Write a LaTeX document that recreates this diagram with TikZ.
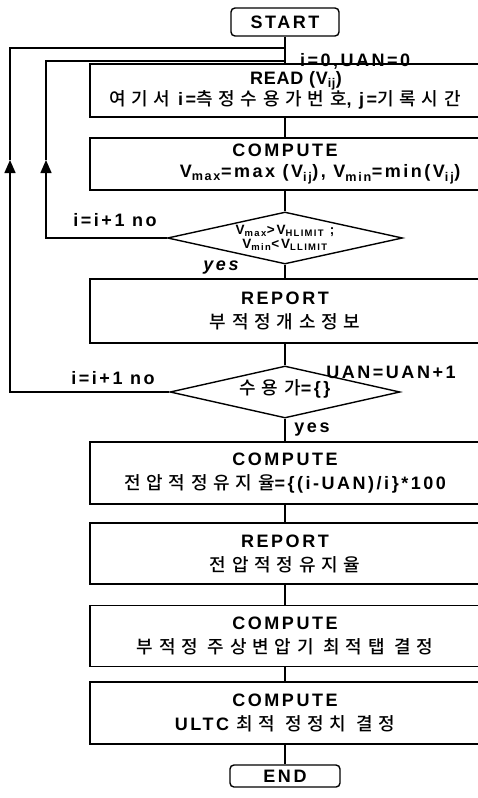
\documentclass[tikz,border=0pt]{standalone}
\usepackage{fontspec}
\setmainfont{Liberation Sans Bold}[LetterSpace=14]
\newfontfamily\kr{Noto Sans CJK KR Medium}[LetterSpace=32]
\usetikzlibrary{shapes.geometric,arrows.meta}
\newcommand\vsub[1]{\textsubscript{#1}}
\begin{document}
\begin{tikzpicture}[x=1pt,y=-1pt,
  line width=1.4pt,
  every node/.style={font=\fontsize{18}{24}\selectfont},
  procbox/.style={draw, rectangle, minimum width=390pt, align=center, inner sep=0pt},
  term/.style={draw, rounded corners=4pt, minimum width=108pt, minimum height=28pt, inner sep=0pt},
  decision/.style={draw, diamond, inner sep=0pt},
  tip/.style={-{Triangle[length=13pt,width=11pt]}}
]
\useasboundingbox (0,0) rectangle (477,798);
\node[term] (start) at (285,22) {START};
\node[procbox, minimum height=53pt] (read) at (285,90.5) {\hspace*{22pt}{\addfontfeature{LetterSpace=4}READ (V\vsub{ij})}\\[-3pt]{\kr 여기서} i={\kr 측정수용가번호}, j={\kr 기록시간}};
\node[procbox, minimum height=52pt] (comp1) at (285,164) {COMPUTE\\[-3pt]\hspace*{70pt}V\vsub{max}=max (V\vsub{ij}), V\vsub{min}=min(V\vsub{ij})};
\node[decision, minimum width=235pt, minimum height=52pt] (d1) at (285,238) {};
\node[font=\fontsize{13.5}{14}\selectfont, align=center] (d1t) at (d1) {V\vsub{max}>V\vsub{HLIMIT} ;\\V\vsub{min}<V\vsub{LLIMIT}};
\node[procbox, minimum height=64pt] (rep1) at (285,311) {REPORT\\{\kr 부적정개소정보}};
\node[decision, minimum width=230pt, minimum height=52pt] (d2) at (285,392) {};
\node (d2t) at ([yshift=3pt]d2.center) {{\kr 수용가}=\{\}};
\node[procbox, minimum height=62pt] (comp2) at (285,473) {COMPUTE\\{\kr 전압적정유지율}=\{(i-UAN)/i\}*100};
\node[procbox, minimum height=61pt] (rep2) at (285,553.5) {REPORT\\{\kr 전압적정유지율}};
\node[procbox, minimum height=61pt] (comp3) at (285,636) {COMPUTE\\{\kr 부적정 주상변압기 최적탭 결정}};
\node[procbox, minimum height=62pt] (comp4) at (285,713) {COMPUTE\\ULTC {\kr 최적 정정치 결정}};
\node[term, minimum width=110pt, minimum height=22pt] (end) at (285,776) {END};

\draw (start.south) -- (read.north);
\draw (read.south) -- (comp1.north);
\draw (comp1.south) -- (d1.north);
\draw (d1.south) -- (rep1.north);
\draw (rep1.south) -- (d2.north);
\draw (d2.south) -- (comp2.north);
\draw (comp2.south) -- (rep2.north);
\draw (rep2.south) -- (comp3.north);
\draw (comp3.south) -- (comp4.north);
\draw (comp4.south) -- (end.north);

\coordinate (j1) at (285,48);
\coordinate (j2) at (285,61);
\coordinate (o1) at (10,48);
\coordinate (o2) at (10,392);
\coordinate (oa) at (10,160);
\coordinate (i1) at (46,61);
\coordinate (i2) at (46,238);
\coordinate (ia) at (46,160);
\draw[tip] (d2.west) -- (o2) -- (oa);
\draw (oa) -- (o1) -- (j1);
\draw[tip] (d1.west) -- (i2) -- (ia);
\draw (ia) -- (i1) -- (j2);

\node[anchor=base west] (l0) at (296,66) {i=0,UAN=0};
\node (l1) at (115,220) {i=i+1 no};
\node[font=\fontsize{18}{24}\selectfont\itshape] (l2) at (221,268) {yes};
\node (l3) at (391,372) {UAN=UAN+1};
\node (l4) at (113,378) {i=i+1 no};
\node (l5) at (312,430) {yes};
\end{tikzpicture}
\end{document}
